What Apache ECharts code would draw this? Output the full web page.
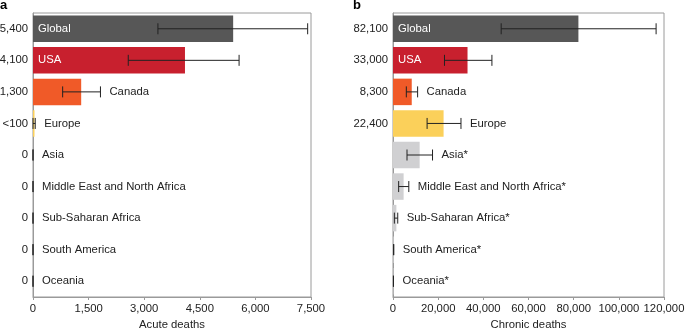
<!DOCTYPE html>
<html>
<head>
<meta charset="utf-8">
<script src="https://cdn.jsdelivr.net/npm/echarts@6/dist/echarts.min.js"></script>
<style>
  html, body { margin: 0; padding: 0; background: #fff; }
  #chart { width: 685px; height: 331px; }
</style>
</head>
<body>
<div id="chart"></div>
<script>
// Regions, top to bottom
const regions = ['Global', 'USA', 'Canada', 'Europe', 'Asia',
  'Middle East and North Africa', 'Sub-Saharan Africa', 'South America', 'Oceania'];
const chronicRegions = ['Global', 'USA', 'Canada', 'Europe', 'Asia*',
  'Middle East and North Africa*', 'Sub-Saharan Africa*', 'South America*', 'Oceania*'];

// Panel a: acute deaths
const acuteLabels = ['5,400', '4,100', '1,300', '<100', '0', '0', '0', '0', '0'];
const acuteValues = [5400, 4100, 1300, 40, 0, 0, 0, 0, 0];
const acuteLow    = [3370, 2570, 800, 0, 0, 0, 0, 0, 0];
const acuteHigh   = [7410, 5560, 1820, 60, 0, 0, 0, 0, 0];

// Panel b: chronic deaths
const chronicLabels = ['82,100', '33,000', '8,300', '22,400', '', '', '', '', ''];
const chronicValues = [82100, 33000, 8300, 22400, 11800, 4700, 1500, 300, 200];
const chronicLow    = [47900, 22800, 5900, 15100, 6200, 2500, 600, 300, 200];
const chronicHigh   = [116500, 43800, 10900, 30100, 17500, 7000, 2100, 300, 200];

// Axis ticks
const acuteTicks = { max: 7500, interval: 1500 };
const chronicTicks = { max: 120000, interval: 20000 };

const regionColors = {
  'Global': '#575757', 'USA': '#c8202e', 'Canada': '#f05a28', 'Europe': '#fbd05a'
};
const otherColor = '#d0d0d2';
const insideLabelled = new Set(['Global', 'USA']);
const FONT = 'Liberation Sans, Arial, Helvetica, sans-serif';
const FS = 11.3;
const AXIS_GRAY = '#9a9a9a';

function barData(values) {
  return values.map((v, i) => ({
    value: v,
    itemStyle: { color: regionColors[regions[i]] || otherColor }
  }));
}

function errData(low, high, values) {
  return low.map((lo, i) => [lo, high[i], i, values[i]]);
}

function makeRender(names) {
  return function (params, api) {
    const i = params.dataIndex;
    const idx = api.value(2);
    const pLo = api.coord([api.value(0), idx]);
    const pHi = api.coord([api.value(1), idx]);
    const pEnd = api.coord([api.value(3), idx]);
    const pZero = api.coord([0, idx]);
    const y = pLo[1];
    const cap = 5.5;
    const stroke = { stroke: '#222', lineWidth: 1 };
    const children = [
      { type: 'line', shape: { x1: pLo[0], y1: y, x2: pHi[0], y2: y }, style: stroke },
      { type: 'line', shape: { x1: pLo[0], y1: y - cap, x2: pLo[0], y2: y + cap }, style: stroke },
      { type: 'line', shape: { x1: pHi[0], y1: y - cap, x2: pHi[0], y2: y + cap }, style: stroke }
    ];
    const inside = insideLabelled.has(regions[i]);
    children.push({
      type: 'text',
      z2: 10,
      style: {
        x: inside ? pZero[0] + 5 : Math.max(pHi[0], pEnd[0]) + 9,
        y: y,
        text: names[i],
        fill: inside ? '#ffffff' : '#222222',
        font: FS + 'px ' + FONT,
        verticalAlign: 'middle',
        align: 'left'
      }
    });
    return { type: 'group', children: children };
  };
}

function xAxisFor(gridIndex, ticks, name) {
  return {
    type: 'value', gridIndex: gridIndex, min: 0, max: ticks.max, interval: ticks.interval,
    name: name, nameLocation: 'middle', nameGap: 22,
    nameTextStyle: { fontFamily: FONT, fontSize: FS, color: '#222' },
    axisLine: { show: true, lineStyle: { color: AXIS_GRAY, width: 1 } },
    axisTick: { show: true, length: 3, lineStyle: { color: AXIS_GRAY } },
    axisLabel: {
      fontFamily: FONT, fontSize: FS, color: '#222', margin: 6,
      formatter: v => v.toLocaleString('en-US')
    },
    splitLine: { show: false }
  };
}

function yAxisFor(gridIndex, labels) {
  return {
    type: 'category', gridIndex: gridIndex, data: regions, inverse: true,
    axisLine: { show: true, lineStyle: { color: AXIS_GRAY, width: 1 } },
    axisTick: { show: false },
    axisLabel: {
      fontFamily: FONT, fontSize: FS, color: '#222', margin: 5,
      formatter: (v, i) => labels[i]
    }
  };
}

const chart = echarts.init(document.getElementById('chart'), null, { renderer: 'canvas' });
chart.setOption({
  animation: false,
  backgroundColor: '#ffffff',
  grid: [
    { left: 33, top: 13, width: 278, height: 284, show: true, borderColor: AXIS_GRAY, borderWidth: 1,
      containLabel: false, outerBoundsMode: 'none' },
    { left: 393, top: 13, width: 271, height: 284, show: true, borderColor: AXIS_GRAY, borderWidth: 1,
      containLabel: false, outerBoundsMode: 'none' }
  ],
  xAxis: [
    xAxisFor(0, acuteTicks, 'Acute deaths'),
    xAxisFor(1, chronicTicks, 'Chronic deaths')
  ],
  yAxis: [
    yAxisFor(0, acuteLabels),
    yAxisFor(1, chronicLabels)
  ],
  graphic: [
    { type: 'text', left: 0, top: -1, style: { text: 'a', font: 'bold 13px ' + FONT, fill: '#000' } },
    { type: 'text', left: 353, top: -1, style: { text: 'b', font: 'bold 13px ' + FONT, fill: '#000' } }
  ],
  series: [
    {
      type: 'bar', xAxisIndex: 0, yAxisIndex: 0, data: barData(acuteValues),
      barCategoryGap: '16%', silent: true
    },
    {
      type: 'custom', xAxisIndex: 0, yAxisIndex: 0, clip: false, z: 5,
      encode: { x: [0, 1], y: 2 },
      data: errData(acuteLow, acuteHigh, acuteValues),
      renderItem: makeRender(regions)
    },
    {
      type: 'bar', xAxisIndex: 1, yAxisIndex: 1, data: barData(chronicValues),
      barCategoryGap: '16%', silent: true
    },
    {
      type: 'custom', xAxisIndex: 1, yAxisIndex: 1, clip: false, z: 5,
      encode: { x: [0, 1], y: 2 },
      data: errData(chronicLow, chronicHigh, chronicValues),
      renderItem: makeRender(chronicRegions)
    }
  ]
});
</script>
</body>
</html>
